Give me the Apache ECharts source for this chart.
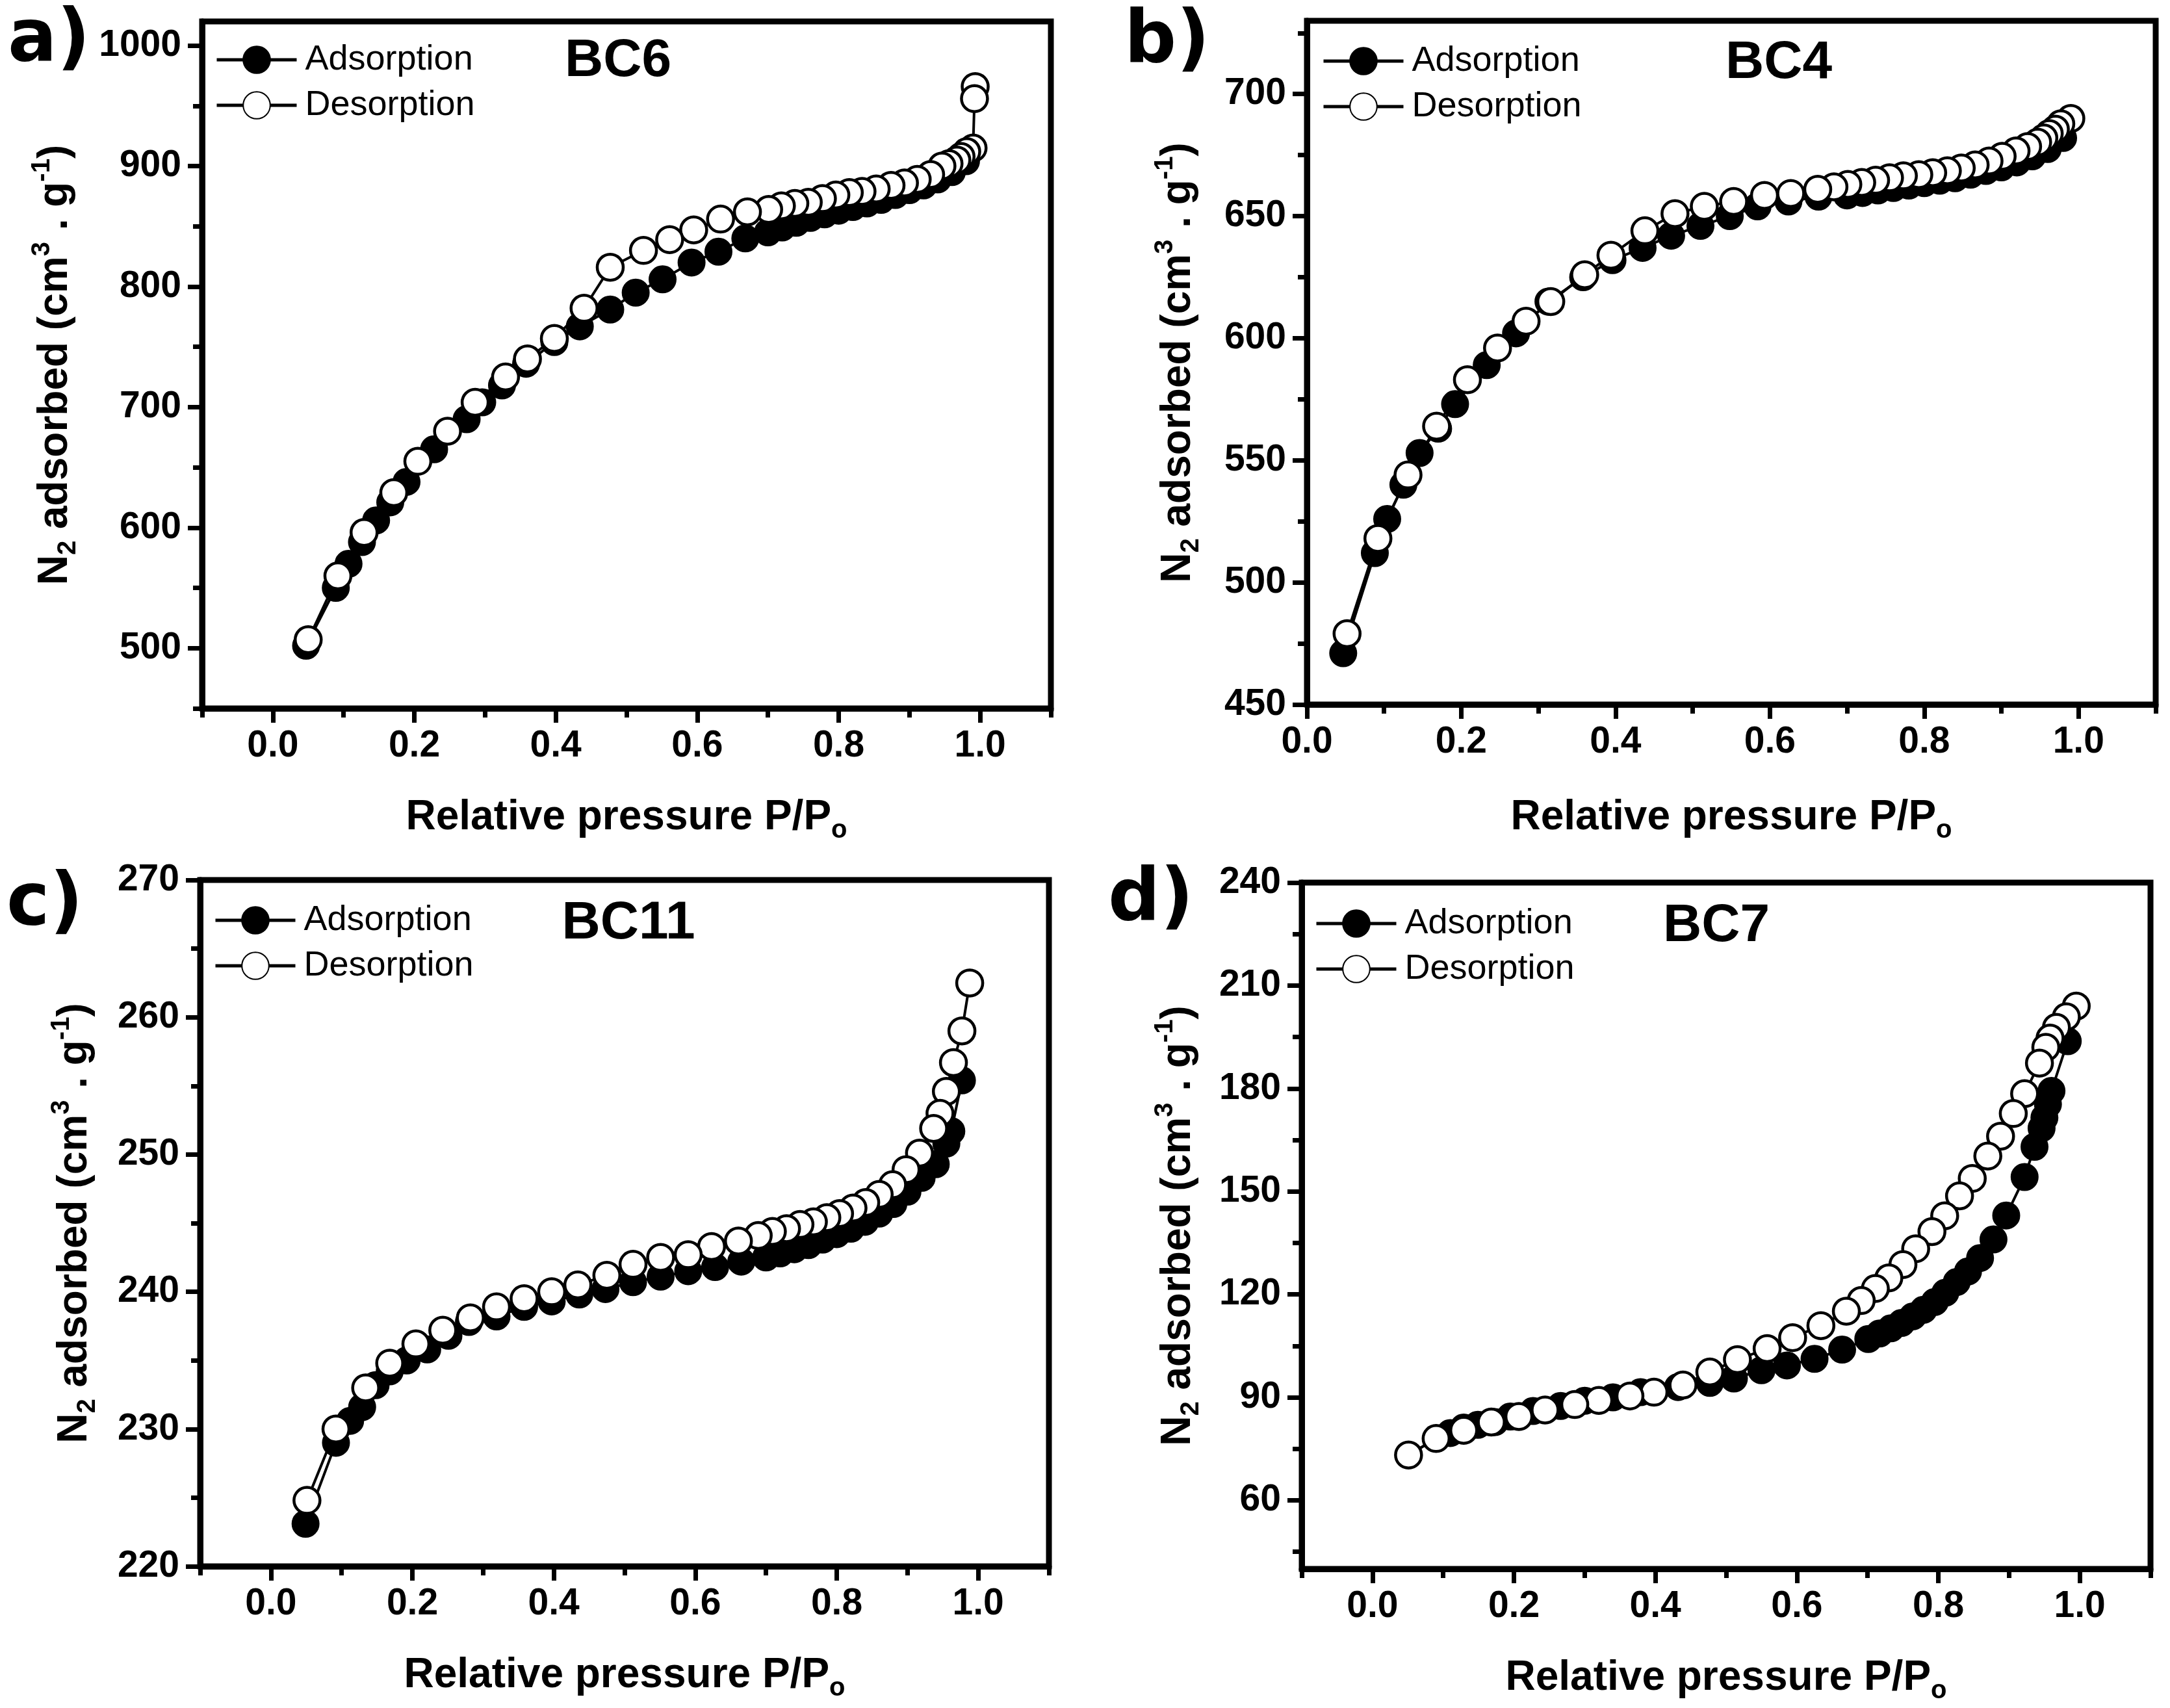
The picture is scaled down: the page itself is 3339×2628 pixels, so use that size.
<!DOCTYPE html>
<html><head><meta charset="utf-8">
<script src="https://cdn.jsdelivr.net/npm/echarts@6/dist/echarts.min.js"></script>
<style>html,body{margin:0;padding:0;background:#fff}#c{width:3339px;height:2628px}</style>
</head><body><div id="c"></div>
<script>
// ---------------- DATA ----------------
// BC6
const bc6AdsP = [0.047,0.089,0.107,0.126,0.146,0.166,0.189,0.228,0.274,0.296,0.324,0.358,0.398,0.434,0.477,0.513,0.551,0.592,0.630,0.668,0.700,0.72,0.74,0.76,0.78,0.80,0.82,0.84,0.86,0.88,0.90,0.92,0.94,0.96,0.98];
const bc6AdsV = [502,550,570,588,606,621,638,665,690,704,718,736,754,767,781,795,806,820,829,840,845,849,853,857,860,863,866,869,872,876,880,884,889,895,904];
const bc6DesP = [0.993,0.992,0.990,0.981,0.973,0.967,0.956,0.946,0.930,0.911,0.893,0.874,0.853,0.833,0.815,0.796,0.777,0.757,0.738,0.719,0.701,0.671,0.633,0.595,0.561,0.524,0.477,0.440,0.398,0.360,0.329,0.286,0.247,0.205,0.171,0.129,0.092,0.050];
const bc6DesV = [966,956,915,912,908,905,902,900,893,889,886,884,881,879,878,876,873,870,869,867,864,862,856,847,839,830,816,782,757,740,725,704,680,655,629,596,560,507];
// BC4
const bc4AdsP = [0.047,0.088,0.104,0.125,0.146,0.170,0.192,0.233,0.271,0.313,0.358,0.396,0.435,0.472,0.510,0.548,0.584,0.624,0.663,0.70,0.72,0.74,0.76,0.78,0.80,0.82,0.84,0.86,0.88,0.90,0.92,0.94,0.96,0.98];
const bc4AdsV = [471,512,526,540,553,563,573,589,602,615,625,632,637,642,646,650,654,656,658,658.5,659.5,660.5,661.5,662.5,663.5,664.5,665.5,667,668.5,670,672,674.5,677.5,682];
const bc4DesP = [0.990,0.977,0.970,0.962,0.955,0.947,0.934,0.919,0.901,0.884,0.866,0.848,0.830,0.811,0.793,0.773,0.755,0.737,0.719,0.701,0.683,0.662,0.627,0.593,0.553,0.515,0.477,0.438,0.394,0.360,0.316,0.284,0.247,0.208,0.168,0.131,0.092,0.052];
const bc4DesV = [690,687.8,685.6,683.8,682,680.3,678.5,676.7,674.5,672.6,671,669.7,668.6,667.8,667,666.5,665.7,664.7,663.8,663,662,661,659.3,658.5,656,654,651,644,634,626,615,607,596,583,564,544,518,479];
// BC11
const bc11AdsP = [0.049,0.092,0.112,0.129,0.148,0.168,0.192,0.221,0.251,0.280,0.319,0.358,0.397,0.436,0.473,0.512,0.551,0.590,0.628,0.665,0.70,0.72,0.74,0.76,0.78,0.80,0.82,0.84,0.86,0.88,0.90,0.92,0.94,0.955,0.962,0.977];
const bc11AdsV = [223.1,229.0,230.6,231.6,233.2,234.2,235.0,235.8,236.8,237.8,238.2,238.9,239.3,239.8,240.2,240.7,241.1,241.5,241.8,242.2,242.5,242.8,243.1,243.4,243.8,244.2,244.6,245.1,245.7,246.4,247.3,248.3,249.3,250.8,251.7,255.4];
const bc11DesP = [0.988,0.977,0.965,0.955,0.946,0.937,0.917,0.898,0.879,0.860,0.841,0.823,0.804,0.786,0.767,0.748,0.729,0.709,0.689,0.661,0.623,0.590,0.551,0.512,0.475,0.434,0.397,0.358,0.319,0.282,0.243,0.205,0.168,0.134,0.092,0.051];
const bc11DesV = [262.5,259.0,256.7,254.6,253.0,251.9,250.1,248.9,247.8,247.1,246.5,246.1,245.7,245.4,245.1,244.9,244.6,244.4,244.1,243.7,243.3,242.7,242.5,242.0,241.2,240.5,240.0,239.5,238.9,238.1,237.2,236.2,234.8,233.0,230.0,224.8];
// BC7
const bc7AdsP = [0.051,0.090,0.110,0.129,0.149,0.173,0.195,0.227,0.266,0.300,0.340,0.379,0.432,0.477,0.511,0.550,0.586,0.625,0.664,0.701,0.717,0.733,0.748,0.764,0.779,0.795,0.810,0.826,0.842,0.859,0.878,0.896,0.922,0.936,0.946,0.950,0.955,0.960,0.983];
const bc7AdsV = [73.2,78,79.6,81.2,82,82.8,84.4,86,87.5,89,90,91.5,93,94.2,95.5,97.9,99.3,101.2,103.9,107.0,108.6,110.1,111.7,113.6,115.5,117.8,120.5,123.6,126.7,130.6,136.0,143.0,154.2,163.0,168.4,171.5,175.4,179.3,193.8];
const bc7DesP = [0.995,0.981,0.967,0.958,0.952,0.943,0.922,0.906,0.888,0.870,0.848,0.830,0.809,0.791,0.768,0.750,0.730,0.711,0.691,0.670,0.634,0.594,0.558,0.516,0.477,0.439,0.398,0.364,0.320,0.286,0.244,0.207,0.168,0.129,0.090,0.051];
const bc7DesV = [204.0,200.9,197.8,194.7,192.0,187.4,178.5,172.7,166.1,160.3,153.8,148.7,142.9,138.3,133.3,128.7,124.8,121.7,118.2,115.1,110.9,107.4,104.2,101,97.4,93.6,91.5,90.4,89.1,87.9,86.3,84.4,82.8,80.4,78,73.2];

// tick values
const xTicksWide = [0,0.2,0.4,0.6,0.8,1.0];
const xMinorWide = [-0.1,0.1,0.3,0.5,0.7,0.9,1.1];
const xMinorB = [0.1,0.3,0.5,0.7,0.9,1.1];
const bc6YTicks = [500,600,700,800,900,1000];
const bc6YMinor = [450,550,650,750,850,950];
const bc4YTicks = [450,500,550,600,650,700];
const bc4YMinor = [475,525,575,625,675,725];
const bc11YTicks = [220,230,240,250,260,270];
const bc11YMinor = [225,235,245,255,265];
const bc7YTicks = [60,90,120,150,180,210,240];
const bc7YMinor = [45,75,105,135,165,195,225];

const sampleNames = ['BC6','BC4','BC11','BC7'];
const panelLetters = ['a)','b)','c)','d)'];
const seriesNames = ['Adsorption','Desorption'];

// ---------------- LAYOUT ----------------
const FONT = '"Liberation Sans", Arial, sans-serif';
const panels = [
  {grid:{left:311,top:33,width:1306,height:1057}, x:[-0.1,1.1], y:[450,1020], xt:xTicksWide, xm:xMinorWide, yt:bc6YTicks, ym:bc6YMinor,
   ads:[bc6AdsP,bc6AdsV], des:[bc6DesP,bc6DesV], yGap:186, xGap:128, legend:[326,60], title:[951,94], letter:[12,64]},
  {grid:{left:2011,top:32,width:1306,height:1052}, x:[0,1.1], y:[450,730], xt:xTicksWide, xm:xMinorB, yt:bc4YTicks, ym:bc4YMinor,
   ads:[bc4AdsP,bc4AdsV], des:[bc4DesP,bc4DesV], yGap:158, xGap:134, legend:[2029,62], title:[2737,97], letter:[1730,66]},
  {grid:{left:308,top:1354,width:1306,height:1056}, x:[-0.1,1.1], y:[220,270], xt:xTicksWide, xm:xMinorWide, yt:bc11YTicks, ym:bc11YMinor,
   ads:[bc11AdsP,bc11AdsV], des:[bc11DesP,bc11DesV], yGap:153, xGap:128, legend:[324,1384], title:[967,1421], letter:[10,1393]},
  {grid:{left:2003,top:1358,width:1306,height:1056}, x:[-0.1,1.1], y:[40,240], xt:xTicksWide, xm:xMinorWide, yt:bc7YTicks, ym:bc7YMinor,
   ads:[bc7AdsP,bc7AdsV], des:[bc7DesP,bc7DesV], yGap:150, xGap:128, legend:[2018,1389], title:[2641,1425], letter:[1705,1386]}
];

const zip = (a,b) => a.map((v,i)=>[v,b[i]]);
const richName = {
  t:{fontSize:64,fontWeight:'bold',fontFamily:FONT,color:'#000',lineHeight:80,verticalAlign:'middle'},
  s:{fontSize:40,fontWeight:'bold',fontFamily:FONT,color:'#000',lineHeight:36,verticalAlign:'bottom'},
  p:{fontSize:40,fontWeight:'bold',fontFamily:FONT,color:'#000',lineHeight:40,verticalAlign:'top'}
};

const grids=[], xAxes=[], yAxes=[], series=[], legends=[], graphics=[];
panels.forEach((pn,gi)=>{
  grids.push(Object.assign({show:true,borderColor:'#000',borderWidth:9,backgroundColor:'transparent',containLabel:false}, pn.grid));
  const lineS = {show:true,onZero:false,lineStyle:{color:'#000',width:9}};
  xAxes.push({type:'value',gridIndex:gi,position:'bottom',min:pn.x[0],max:pn.x[1],
    axisLine:lineS,
    axisTick:{show:true,inside:false,length:22,customValues:pn.xt,lineStyle:{color:'#000',width:7}},
    axisLabel:{show:true,customValues:pn.xt,margin:30,color:'#000',fontSize:57,fontWeight:'bold',fontFamily:FONT,formatter:v=>Number(v).toFixed(1)},
    splitLine:{show:false},
    name:'{t|Relative pressure P/P}{s|o}',nameLocation:'middle',nameGap:pn.xGap,nameTextStyle:{rich:richName}
  });
  xAxes.push({type:'value',gridIndex:gi,position:'bottom',min:pn.x[0],max:pn.x[1],
    axisLine:{show:false,onZero:false},
    axisTick:{show:true,inside:false,length:14,customValues:pn.xm,lineStyle:{color:'#000',width:7}},
    axisLabel:{show:false},splitLine:{show:false}});
  yAxes.push({type:'value',gridIndex:gi,position:'left',min:pn.y[0],max:pn.y[1],
    axisLine:lineS,
    axisTick:{show:true,inside:false,length:22,customValues:pn.yt,lineStyle:{color:'#000',width:7}},
    axisLabel:{show:true,customValues:pn.yt,margin:32,color:'#000',fontSize:57,fontWeight:'bold',fontFamily:FONT,formatter:v=>String(v)},
    splitLine:{show:false},
    name:'{t|N}{s|2}{t| adsorbed (cm}{p|3}{t| . g}{p|-1}{t|)}',nameLocation:'middle',nameRotate:90,nameGap:pn.yGap,nameTextStyle:{rich:richName}
  });
  yAxes.push({type:'value',gridIndex:gi,position:'left',min:pn.y[0],max:pn.y[1],
    axisLine:{show:false,onZero:false},
    axisTick:{show:true,inside:false,length:14,customValues:pn.ym,lineStyle:{color:'#000',width:7}},
    axisLabel:{show:false},splitLine:{show:false}});
  series.push({type:'line',name:seriesNames[0],xAxisIndex:2*gi,yAxisIndex:2*gi,data:zip(pn.ads[0],pn.ads[1]),
    symbol:'circle',symbolSize:40,showAllSymbol:true,clip:false,z:2,
    lineStyle:{color:'#000',width:4},itemStyle:{color:'#000',borderColor:'#000',borderWidth:3}});
  series.push({type:'line',name:seriesNames[1],xAxisIndex:2*gi,yAxisIndex:2*gi,data:zip(pn.des[0],pn.des[1]),
    symbol:'circle',symbolSize:40,showAllSymbol:true,clip:false,z:3,
    lineStyle:{color:'#000',width:4},itemStyle:{color:'#fff',borderColor:'#000',borderWidth:4.5}});
  legends.push({data:seriesNames,orient:'vertical',left:pn.legend[0],top:pn.legend[1],itemWidth:123,itemHeight:52,itemGap:16,
    selectedMode:false,lineStyle:{width:5,color:'#000'},
    textStyle:{fontSize:54,color:'#000',fontFamily:FONT,padding:[0,0,0,8]}});
  graphics.push({type:'text',x:pn.title[0],y:pn.title[1],style:{text:sampleNames[gi],font:'bold 82px '+FONT,fill:'#000',textAlign:'center',textVerticalAlign:'middle'}});
  graphics.push({type:'text',x:pn.letter[0],y:pn.letter[1],style:{text:panelLetters[gi],font:'bold 112px "DejaVu Sans", sans-serif',fill:'#000',textAlign:'left',textVerticalAlign:'middle'}});
});

const chart = echarts.init(document.getElementById('c'), null, {renderer:'canvas'});
chart.setOption({
  animation:false,
  backgroundColor:'#fff',
  grid:grids, xAxis:xAxes, yAxis:yAxes, series:series, legend:legends, graphic:graphics
});
</script>
</body></html>
